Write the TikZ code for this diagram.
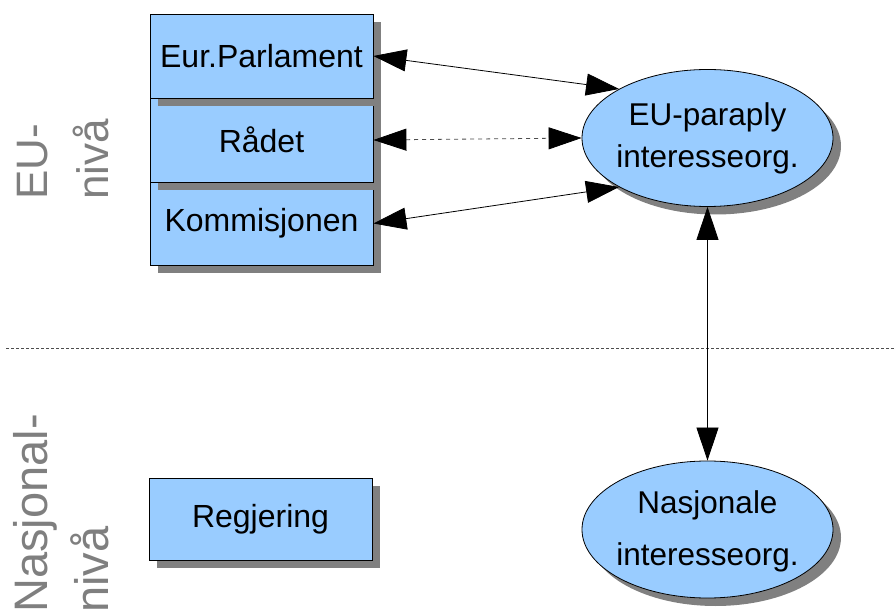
\documentclass[tikz,border=0pt]{standalone}
\usepackage{fontspec}
\setmainfont{Liberation Sans}
\usetikzlibrary{shapes.geometric,shadows,arrows.meta}
\definecolor{boxblue}{HTML}{99CCFF}
\definecolor{shadowgray}{HTML}{808080}
\definecolor{levelgray}{HTML}{7F7F7F}
\definecolor{dashgray}{HTML}{4D4D4D}

\begin{document}
\begin{tikzpicture}[x=1pt,y=-1pt,
  castshadow/.style={drop shadow={shadow xshift=8pt,shadow yshift=-8pt,fill=shadowgray,opacity=1}},
  orgbox/.style={draw=black,line width=0.8pt,fill=boxblue,castshadow,
    minimum width=223pt,inner sep=0pt,font=\fontsize{32}{37}\selectfont},
  assoc/.style={ellipse,draw=black,line width=0.8pt,fill=boxblue,castshadow,
    minimum width=251pt,minimum height=137pt,inner sep=0pt},
  assoctext/.style={align=center,inner sep=0pt},
  level/.style={rotate=90,anchor=base west,inner sep=0pt,text=levelgray},
  link/.style={{Triangle[length=33pt,width=22pt]}-{Triangle[length=33pt,width=22pt]},line width=0.8pt,black},
  weaklink/.style={{Triangle[length=33pt,width=22pt,black]}-{Triangle[length=33pt,width=22pt,black]},
    line width=0.8pt,draw=dashgray,dash pattern=on 4pt off 4pt},
  divider/.style={draw=dashgray,line width=0.8pt,dash pattern=on 3pt off 2pt}
]
\useasboundingbox (0,0) rectangle (895,612);
\clip (0,0) rectangle (895,612);
\fill[white] (0,0) rectangle (895,612);

% boundary between the EU level and the national level
\coordinate (divL) at (6,348);
\coordinate (divR) at (895,348);
\draw[divider] (divL) -- (divR);

% EU institutions, stacked (drawn bottom-up so each shadow falls on the box below)
\node[orgbox,minimum height=83pt] (komm) at (261.5,223.5) {Kommisjonen};
\node[orgbox,minimum height=84pt] (raadet) at (261.5,140) {Rådet};
\node[orgbox,minimum height=84pt] (ep) at (261.5,56) {Eur.Parlament};

% national government
\node[orgbox,minimum height=82pt] (regj) at (260.5,519) {Regjering};

% interest organisations
\node[assoc] (euorg) at (707.5,138) {};
\node[assoctext,font=\fontsize{31.5}{42}\selectfont] (euorgtxt) at (euorg.center) {EU-paraply\\interesseorg.};
\node[assoc] (natorg) at (707.5,529.5) {};
\node[assoctext,font=\fontsize{31.5}{52}\selectfont] (natorgtxt) at ([yshift=-2pt]natorg.center) {Nasjonale\\interesseorg.};

% level captions
\node[level,font=\fontsize{44}{44}\selectfont] (eulvlA) at (47,200) {EU-};
\node[level,font=\fontsize{44}{44}\selectfont] (eulvlB) at (108,200) {nivå};
\node[level,font=\fontsize{47}{47}\selectfont] (natlvlA) at (47,613) {Nasjonal-};
\node[level,font=\fontsize{47}{47}\selectfont] (natlvlB) at (108,613) {nivå};

% relations
\draw[link] (ep.east) -- (euorg.151);
\draw[weaklink] (raadet.east) -- (euorg.west);
\draw[link] (komm.east) -- (euorg.209);
\draw[link] (euorg.south) -- (natorg.north);
\end{tikzpicture}
\end{document}
